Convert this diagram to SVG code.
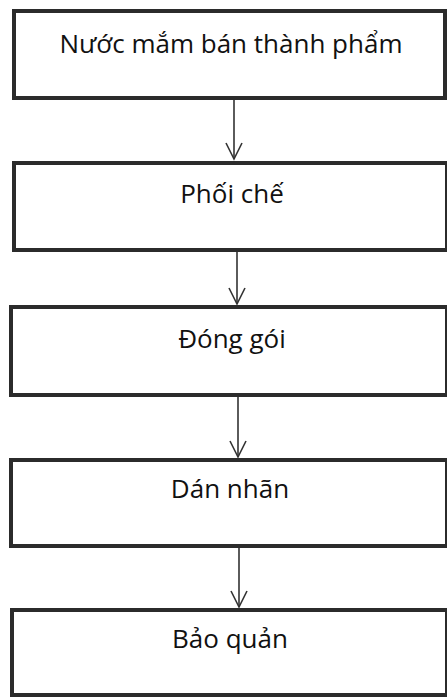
<svg xmlns="http://www.w3.org/2000/svg" width="447" height="697" viewBox="0 0 447 697">
<style>
.box{fill:#fff;stroke:#2b2b2b;stroke-width:4}
.lbl{font-family:"Open Sans","Noto Sans",sans-serif;font-size:26px;fill:#111;text-anchor:middle}
.conn{stroke:#333;stroke-width:1.6;fill:none}
</style>
<defs>
<marker id="v" viewBox="0 0 20 20" refX="18" refY="10" markerWidth="20" markerHeight="20" markerUnits="userSpaceOnUse" orient="auto">
<path d="M2,2 L18,10 L2,18" fill="none" stroke="#333" stroke-width="1.6"/>
</marker>
</defs>
<rect width="447" height="697" fill="#fff"/>
<g id="connectors">
<line class="conn" x1="234" y1="98" x2="234" y2="159" marker-end="url(#v)"/>
<line class="conn" x1="237" y1="250" x2="237" y2="304" marker-end="url(#v)"/>
<line class="conn" x1="238" y1="395" x2="238" y2="457" marker-end="url(#v)"/>
<line class="conn" x1="239" y1="546" x2="239" y2="607" marker-end="url(#v)"/>
</g>
<g id="n1"><rect class="box" x="14" y="11" width="431" height="87"/><text class="lbl" x="231" y="53">Nước mắm bán thành phẩm</text></g>
<g id="n2"><rect class="box" x="14" y="163" width="433" height="87"/><text class="lbl" x="232" y="203">Phối chế</text></g>
<g id="n3"><rect class="box" x="11" y="307" width="436" height="88"/><text class="lbl" x="232" y="348">Đóng gói</text></g>
<g id="n4"><rect class="box" x="11" y="460" width="436" height="86"/><text class="lbl" x="230" y="498">Dán nhãn</text></g>
<g id="n5"><rect class="box" x="12" y="610" width="435" height="85"/><text class="lbl" x="230" y="648">Bảo quản</text></g>
</svg>
